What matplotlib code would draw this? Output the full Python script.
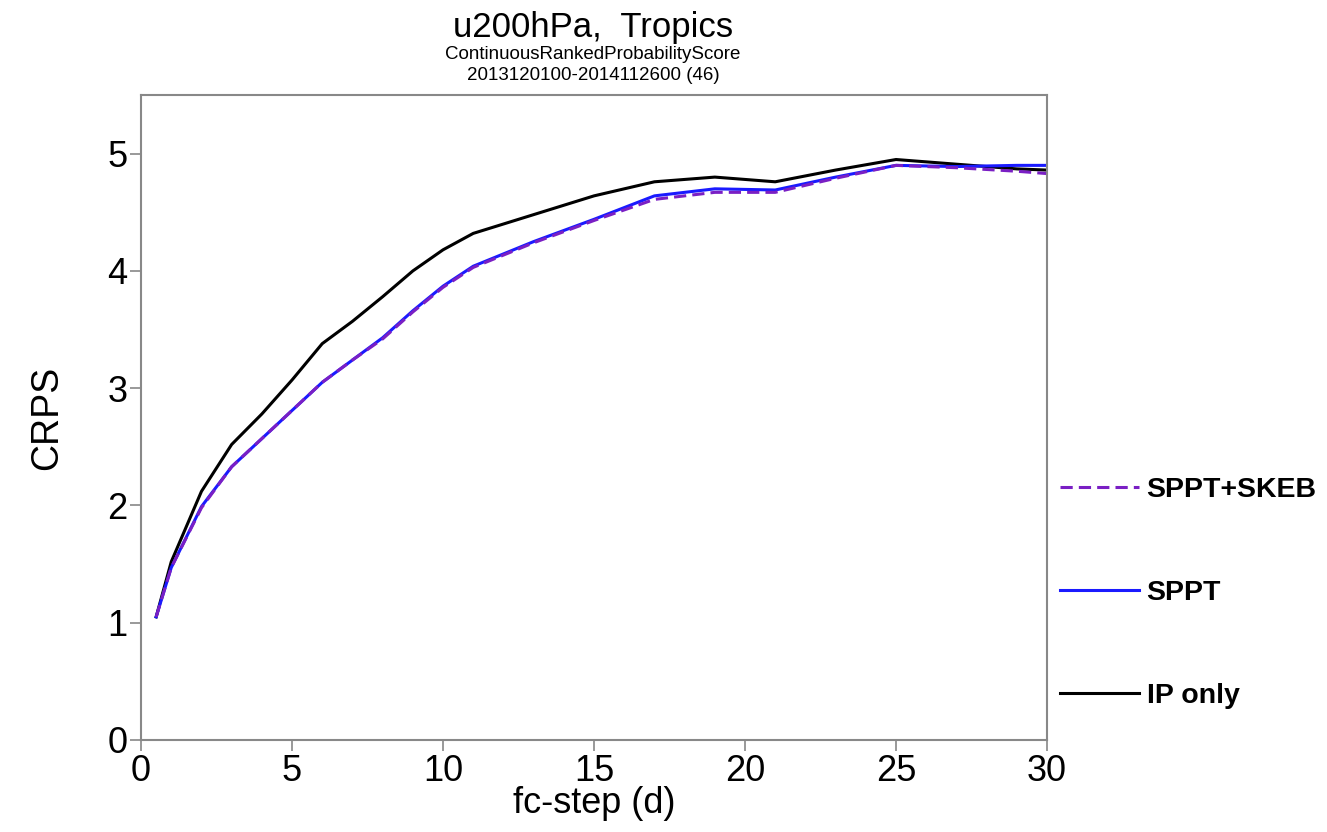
import matplotlib
matplotlib.use("Agg")
import matplotlib.pyplot as plt

plt.rcParams['font.family'] = ['Liberation Sans', 'DejaVu Sans']

# forecast steps (days) and CRPS values
steps = [0.5, 1, 2, 3, 4, 5, 6, 7, 8, 9, 10, 11, 13, 15, 17, 19, 21, 23, 25, 27, 29, 30]
ip_only = [1.05, 1.52, 2.12, 2.52, 2.78, 3.07, 3.38, 3.57, 3.78, 4.00, 4.18, 4.32, 4.48, 4.64, 4.76, 4.80, 4.76, 4.86, 4.95, 4.91, 4.87, 4.86]
sppt = [1.05, 1.47, 1.99, 2.33, 2.57, 2.81, 3.05, 3.24, 3.43, 3.66, 3.87, 4.04, 4.25, 4.44, 4.64, 4.70, 4.69, 4.80, 4.90, 4.89, 4.90, 4.90]
sppt_skeb = [1.05, 1.47, 1.98, 2.33, 2.57, 2.81, 3.05, 3.24, 3.42, 3.65, 3.86, 4.03, 4.24, 4.43, 4.61, 4.67, 4.67, 4.79, 4.90, 4.88, 4.85, 4.83]

xticks = [0, 5, 10, 15, 20, 25, 30]
yticks = [0, 1, 2, 3, 4, 5]

fig = plt.figure(figsize=(13.27, 8.32), dpi=100)
ax = fig.add_axes([0.1063, 0.1106, 0.6827, 0.7752])

l_ip, = ax.plot(steps, ip_only, color='black', lw=2.2, label='IP only')
l_sppt, = ax.plot(steps, sppt, color='#1a1aff', lw=2.2, label='SPPT')
l_skeb, = ax.plot(steps, sppt_skeb, color='#7a1fc4', lw=2.2, ls=(0, (4, 2)), label='SPPT+SKEB')

ax.set_xlim(0, 30)
ax.set_ylim(0, 5.5)
ax.set_xticks(xticks)
ax.set_yticks(yticks)
ax.tick_params(labelsize=26, length=8, width=1.2, color='#888888', pad=2)
for sp in ax.spines.values():
    sp.set_color('#888888')
    sp.set_linewidth(1.5)

ax.set_xlabel('fc-step (d)', fontsize=26, labelpad=-2)
ax.set_ylabel('CRPS', fontsize=27, labelpad=30)

# titles
fig.text(0.447, 0.967, 'u200hPa,  Tropics', ha='center', va='center', fontsize=25)
fig.text(0.447, 0.934, 'ContinuousRankedProbabilityScore', ha='center', va='center', fontsize=13.5)
fig.text(0.447, 0.909, '2013120100-2014112600 (46)', ha='center', va='center', fontsize=13.5)

leg = ax.legend(handles=[l_skeb, l_sppt, l_ip], loc='center left',
                bbox_to_anchor=(1.014, 0.228), frameon=False,
                prop={'weight': 'bold', 'size': 20.5}, handlelength=2.8,
                handletextpad=0.25, labelspacing=2.7, borderpad=0, borderaxespad=0)

fig.savefig('out.png', dpi=100)
